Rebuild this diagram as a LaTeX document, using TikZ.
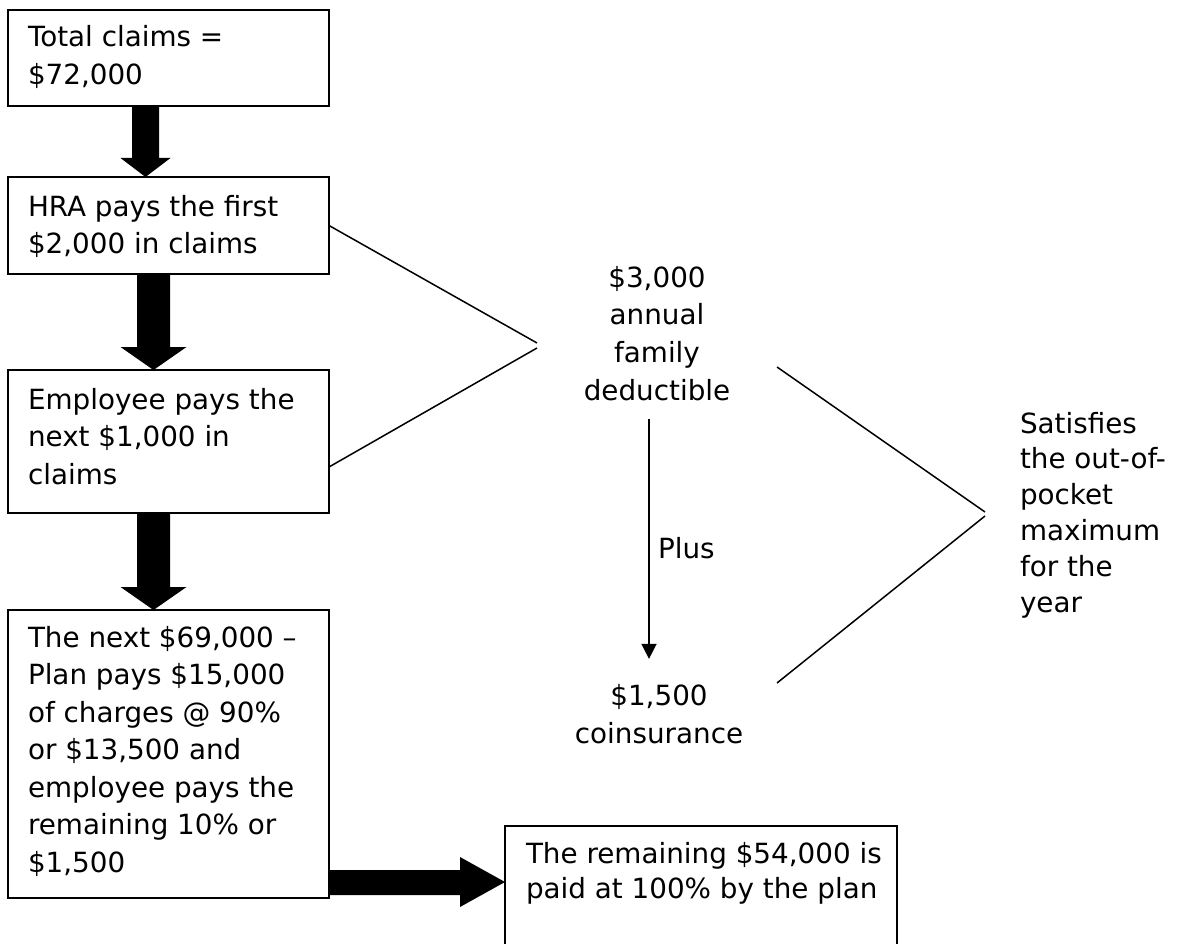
\documentclass[tikz,border=0pt]{standalone}
\usepackage{fontspec}
\setmainfont{DejaVu Sans}
\usetikzlibrary{arrows.meta,calc}
% down block arrow: #1 from node, #2 to node, #3 centre offset from west side,
% #4 shaft half width, #5 head half width, #6 head length
\newcommand{\blockdown}[6]{%
  \fill ($(#1.south west)+(#3-#4,0)$) -- ($(#1.south west)+(#3+#4,0)$)
    -- ($(#2.north west)+(#3+#4,-#6)$) -- ($(#2.north west)+(#3+#5,-#6)$)
    -- ($(#2.north west)+(#3,0)$)
    -- ($(#2.north west)+(#3-#5,-#6)$) -- ($(#2.north west)+(#3-#4,-#6)$) -- cycle;}
\newcommand{\ltxt}[2]{\fontsize{27.8}{#1}\selectfont\parbox[t]{420pt}{\raggedright #2}}
\newcommand{\ctxt}[2]{\fontsize{27.8}{#1}\selectfont\parbox[t]{300pt}{\centering #2}}
\begin{document}
\begin{tikzpicture}[x=1pt,y=-1pt,
  box/.style={draw,line width=2pt,rectangle,inner sep=0pt,outer sep=0pt,anchor=north west},
  txt/.style={inner sep=0pt,outer sep=0pt,anchor=base west},
  ctr/.style={inner sep=0pt,outer sep=0pt,anchor=base},
  brk/.style={line width=1.5pt}]
\path[use as bounding box] (0,0) rectangle (1183,944);
\clip (0,0) rectangle (1183,944);

% boxes
\node[box,minimum width=321pt,minimum height=96pt]  (b1) at (8,10)  {};
\node[box,minimum width=321pt,minimum height=97pt]  (b2) at (8,177) {};
\node[box,minimum width=321pt,minimum height=143pt] (b3) at (8,370) {};
\node[box,minimum width=321pt,minimum height=288pt] (b4) at (8,610) {};
\node[box,minimum width=392pt,minimum height=120pt] (b5) at (505,826) {};

% box texts
\node[txt] (t1) at (28,47)  {\ltxt{38}{Total claims =\\\$72,000}};
\node[txt] (t2) at (28,217) {\ltxt{36.5}{HRA pays the first\\\$2,000 in claims}};
\node[txt] (t3) at (28,409) {\ltxt{37.5}{Employee pays the\\next \$1,000 in\\claims}};
\node[txt] (t4) at (28,647) {\ltxt{37.5}{The next \$69,000 --\\Plan pays \$15,000\\of charges @ 90\%\\or \$13,500 and\\employee pays the\\remaining 10\% or\\\$1,500}};
\node[txt] (t5) at (526,863) {\ltxt{35.6}{The remaining \$54,000 is\\paid at 100\% by the plan}};

% free texts
\node[ctr] (dd) at (657,287) {\ctxt{37.7}{\$3,000\\annual\\family\\deductible}};
\node[ctr] (co) at (659,705) {\ctxt{38}{\$1,500\\coinsurance}};
\node[txt] (plus) at (658,558) {\fontsize{27.8}{37.5}\selectfont Plus};
\node[txt] (sat) at (1020,433) {\ltxt{35.8}{Satisfies\\the out-of-\\pocket\\maximum\\for the\\year}};

% block arrows
\blockdown{b1}{b2}{137.5}{13.5}{25}{19}
\blockdown{b2}{b3}{145.5}{16.5}{33}{23}
\blockdown{b3}{b4}{145.5}{16.5}{33}{23}
\fill ($(b4.south east)+(0,-28)$) -- ($(b5.north west)+(-45,44)$)
  -- ($(b5.north west)+(-45,31)$) -- ($(b5.north west)+(0,56)$)
  -- ($(b5.north west)+(-45,81)$) -- ($(b5.north west)+(-45,69)$)
  -- ($(b4.south east)+(0,-3)$) -- cycle;

% left bracket
\coordinate (lA) at (537,343);
\coordinate (lB) at (537,348);
\draw[brk] (b2.east) -- (lA);
\draw[brk] (lB) -- ($(b3.east)+(0,25.5)$);

% right bracket
\coordinate (rT) at (777,367);
\coordinate (rA) at (985,512);
\coordinate (rB) at (985,516);
\coordinate (rL) at (777,683);
\draw[brk] (rT) -- (rA);
\draw[brk] (rB) -- (rL);

% Plus arrow
\draw[brk,-{Triangle[width=15pt,length=15pt]}] ($(dd.south)+(-8,19)$) -- ($(co.north)+(-10,-25)$);
\end{tikzpicture}
\end{document}
